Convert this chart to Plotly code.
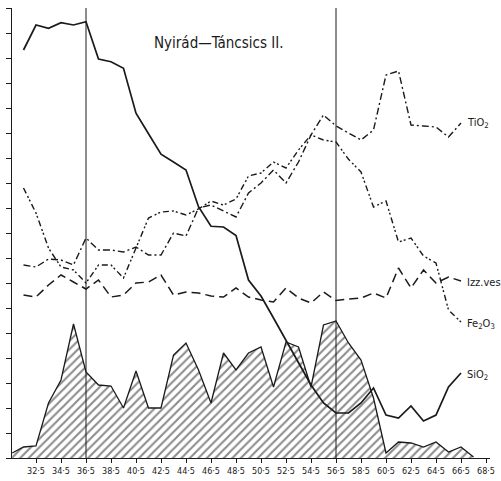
import plotly.graph_objects as go

# sampling depths (m)
depths = [31.5, 32.5, 33.5, 34.5, 35.5, 36.5, 37.5, 38.5, 39.5, 40.5, 41.5, 42.5,
          43.5, 44.5, 45.5, 46.5, 47.5, 48.5, 49.5, 50.5, 51.5, 52.5, 53.5, 54.5,
          55.5, 56.5, 57.5, 58.5, 59.5, 60.5, 61.5, 62.5, 63.5, 64.5, 65.5, 66.5]

sio2 = [16.32, 17.32, 17.19, 17.41, 17.32, 17.45, 15.96, 15.85, 15.59, 13.79, 12.97, 12.15,
        11.84, 11.52, 10.05, 9.27, 9.24, 8.9, 7.12, 6.48, 5.6, 4.72, 3.84, 2.92,
        2.2, 1.8, 1.8, 2.2, 2.8, 1.72, 1.6, 2.08, 1.48, 1.72, 2.84, 3.4]

fe2o3 = [10.8, 9.8, 8.4, 7.64, 7.52, 7.0, 7.72, 7.72, 7.2, 8.4, 9.6, 9.84,
         9.88, 9.72, 9.96, 10.28, 10.12, 10.36, 11.28, 11.4, 11.84, 11.6, 12.32, 12.92,
         12.72, 12.64, 11.95, 11.44, 10.04, 10.28, 8.64, 8.8, 8.08, 7.8, 5.92, 5.44]

tio2 = [7.72, 7.64, 7.96, 7.92, 7.72, 8.8, 8.32, 8.32, 8.24, 8.44, 8.12, 8.12,
        9.0, 8.88, 10.0, 10.12, 9.88, 9.64, 10.6, 11.0, 11.52, 11.0, 11.84, 12.92,
        13.72, 13.28, 13.0, 12.72, 13.12, 15.32, 15.48, 13.32, 13.28, 13.24, 12.84, 13.4]

izz_ves = [6.52, 6.44, 6.92, 7.32, 7.04, 6.76, 7.12, 6.44, 6.52, 7.0, 7.04, 7.32,
           6.52, 6.64, 6.6, 6.48, 6.44, 6.8, 6.44, 6.32, 6.24, 6.8, 6.4, 6.2,
           6.64, 6.3, 6.36, 6.4, 6.6, 6.4, 7.6, 6.8, 7.52, 7.0, 7.24, 7.08]

# hatched (unlabelled) component
hatch_depths = [30.6, 31.5, 32.5, 33.5, 34.5, 35.5, 36.5, 37.5, 38.5, 39.5, 40.5, 41.5,
                42.5, 43.5, 44.5, 45.5, 46.5, 47.5, 48.5, 49.5, 50.5, 51.5, 52.5, 53.5,
                54.5, 55.5, 56.5, 57.5, 58.5, 59.5, 60.5, 61.5, 62.5, 63.5, 64.5, 65.5,
                66.5, 67.5]
hatch_vals = [0.2, 0.44, 0.48, 2.2, 3.12, 5.36, 3.44, 2.92, 2.88, 2.0, 3.48, 2.0,
              2.0, 4.12, 4.6, 3.52, 2.2, 4.2, 3.52, 4.2, 4.44, 2.84, 4.64, 4.44,
              2.84, 5.32, 5.48, 4.6, 3.92, 2.4, 0.2, 0.64, 0.6, 0.44, 0.64, 0.24,
              0.44, 0.04]

tick_depths = [32.5, 34.5, 36.5, 38.5, 40.5, 42.5, 44.5, 46.5, 48.5, 50.5,
               52.5, 54.5, 56.5, 58.5, 60.5, 62.5, 64.5, 66.5, 68.5]
tick_labels = ["32·5", "34·5", "36·5", "38·5", "40·5", "42·5", "44·5", "46·5", "48·5", "50·5",
               "52·5", "54·5", "56·5", "58·5", "60·5", "62·5", "64·5", "66·5", "68·5"]

boundary_depths = [36.5, 56.5]

ink = "#1a1a1a"
fnt = "DejaVu Sans Condensed, Liberation Sans Narrow, sans-serif"

fig = go.Figure()

fig.add_trace(go.Scatter(
    x=hatch_depths, y=hatch_vals, mode="lines", fill="tozeroy",
    line=dict(color=ink, width=1.3),
    fillcolor="white",
    fillpattern=dict(shape="/", fgcolor=ink, bgcolor="white", size=6, solidity=0.35),
    showlegend=False,
))

fig.add_trace(go.Scatter(
    x=depths, y=izz_ves, mode="lines",
    line=dict(color=ink, width=1.5, dash="9px,5px"), showlegend=False,
))
fig.add_trace(go.Scatter(
    x=depths, y=tio2, mode="lines",
    line=dict(color=ink, width=1.4, dash="7px,3px,2px,3px"), showlegend=False,
))
fig.add_trace(go.Scatter(
    x=depths, y=fe2o3, mode="lines",
    line=dict(color=ink, width=1.4, dash="6px,3px,2px,2px,2px,3px"), showlegend=False,
))
fig.add_trace(go.Scatter(
    x=depths, y=sio2, mode="lines",
    line=dict(color=ink, width=1.7), showlegend=False,
))

for d in boundary_depths:
    fig.add_vline(x=d, line=dict(color=ink, width=1))

# series names written at the right-hand end of each curve
labels = [
    ("TiO<sub>2</sub>", 123),
    ("Izz.ves", 282),
    ("Fe<sub>2</sub>O<sub>3</sub>", 324),
    ("SiO<sub>2</sub>", 375),
]
for txt, py in labels:
    fig.add_annotation(x=(465 - 12) / 478, y=1 - (py - 8) / 450, xref="paper", yref="paper",
                       text=txt, showarrow=False, xanchor="left", yanchor="middle",
                       font=dict(size=11, color=ink, family=fnt))

fig.add_annotation(x=(218 - 12) / 478, y=1 - (43 - 8) / 450, xref="paper", yref="paper",
                   text="Nyirád—Táncsics II.", showarrow=False,
                   xanchor="center", yanchor="middle",
                   font=dict(size=15, color=ink, family=fnt))

fig.update_xaxes(
    range=[30.58, 68.82], tickvals=tick_depths, ticktext=tick_labels, automargin=False,
    showgrid=False, zeroline=False, showline=True, linecolor=ink, linewidth=1.2,
    ticks="outside", ticklen=4, tickcolor=ink, tickfont=dict(size=9, color=ink, family=fnt),
)
fig.update_yaxes(
    range=[0, 18], dtick=1, tick0=0, showticklabels=False, automargin=False,
    showgrid=False, zeroline=False, showline=True, linecolor=ink, linewidth=1.2,
    ticks="outside", ticklen=5, tickcolor=ink,
)

fig.update_layout(
    width=501, height=481,
    margin=dict(l=12, r=11, t=8, b=23, autoexpand=False),
    paper_bgcolor="white", plot_bgcolor="white",
)

# drop the browser's default body margin so the chart sits at the page origin
fig.write_html("out.html", config={"displayModeBar": False},
               post_script="document.body.style.margin='0';document.body.style.overflow='hidden';")
